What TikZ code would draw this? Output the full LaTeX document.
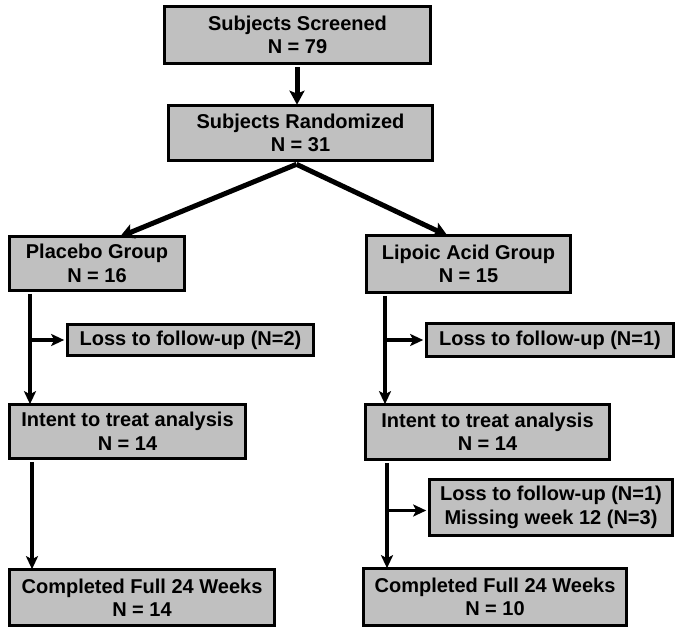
\documentclass[tikz,border=0pt]{standalone}
\usepackage{fontspec}
\setmainfont{Liberation Sans}
\usetikzlibrary{arrows.meta}
\definecolor{boxgray}{RGB}{192,192,192}
\tikzset{
  box/.style={draw=black, fill=boxgray, line width=3.6pt, inner sep=0pt,
    align=center, font=\fontsize{20}{23.5}\selectfont\bfseries},
  mainarrow/.style={line width=5pt, -{Stealth[length=14pt,width=15pt,inset=3pt]}},
  sidearrow/.style={line width=3.2pt, -{Stealth[length=13pt,width=12pt,inset=3pt]}},
}
\begin{document}
\begin{tikzpicture}[x=1pt,y=-1pt]
\useasboundingbox (0,0) rectangle (680,636);
\node[box, minimum width=266pt, minimum height=57pt] (screened) at (297.5,35) {Subjects Screened\\N = 79};
\node[box, minimum width=264pt, minimum height=55pt] (random) at (300.5,133) {Subjects Randomized\\N = 31};
\node[box, minimum width=175pt, minimum height=54pt] (placebo) at (97,263.5) {Placebo Group\\N = 16};
\node[box, minimum width=204pt, minimum height=57pt] (lipoic) at (468.5,264) {Lipoic Acid Group\\N = 15};
\node[box, minimum width=246pt, minimum height=31pt] (lossP) at (190.5,340) {Loss to follow-up (N=2)};
\node[box, minimum width=247pt, minimum height=33pt] (lossL) at (550,340) {Loss to follow-up (N=1)};
\node[box, minimum width=236pt, minimum height=54pt] (intentP) at (127.5,431.5) {Intent to treat analysis\\N = 14};
\node[box, minimum width=244pt, minimum height=55pt] (intentL) at (487.5,432) {Intent to treat analysis\\N = 14};
\node[box, minimum width=243pt, minimum height=56pt] (loss2) at (551,507.5) {Loss to follow-up (N=1)\\Missing week 12 (N=3)};
\node[box, minimum width=265pt, minimum height=56pt] (compP) at (142,597.5) {Completed Full 24 Weeks\\N = 14};
\node[box, minimum width=263pt, minimum height=57pt] (compL) at (495,597) {Completed Full 24 Weeks\\N = 10};

\coordinate (xa) at (30,0);
\coordinate (xb) at (32,0);
\coordinate (xc) at (385,0);
\coordinate (xd) at (387,0);
\coordinate (xs) at (297,0);

\draw[mainarrow] ([yshift=-2pt]screened.south -| xs) -- ([yshift=-1pt]random.north -| xs);
\draw[mainarrow] ([xshift=-4pt,yshift=-2pt]random.south) -- ([xshift=23pt,yshift=-2pt]placebo.north);
\draw[mainarrow] ([xshift=-4pt,yshift=-2pt]random.south) -- ([xshift=-21pt,yshift=-2pt]lipoic.north);

\draw[sidearrow] ([yshift=-1.5pt]placebo.south -| xa) -- ([yshift=-1.5pt]intentP.north -| xa);
\draw[sidearrow] (lossP.west -| xa) -- ([xshift=-1.5pt]lossP.west);
\draw[sidearrow] ([yshift=-1.5pt]intentP.south -| xb) -- ([yshift=-1.5pt]compP.north -| xb);

\draw[sidearrow] ([yshift=-1.5pt]lipoic.south -| xc) -- ([yshift=-1.5pt]intentL.north -| xc);
\draw[sidearrow] (lossL.west -| xc) -- ([xshift=-1.5pt]lossL.west);
\draw[sidearrow] ([yshift=-1.5pt]intentL.south -| xd) -- ([yshift=-1.5pt]compL.north -| xd);
\draw[sidearrow] ([yshift=-3pt]loss2.west -| xd) -- ([xshift=-1.5pt,yshift=-3pt]loss2.west);
\end{tikzpicture}
\end{document}
